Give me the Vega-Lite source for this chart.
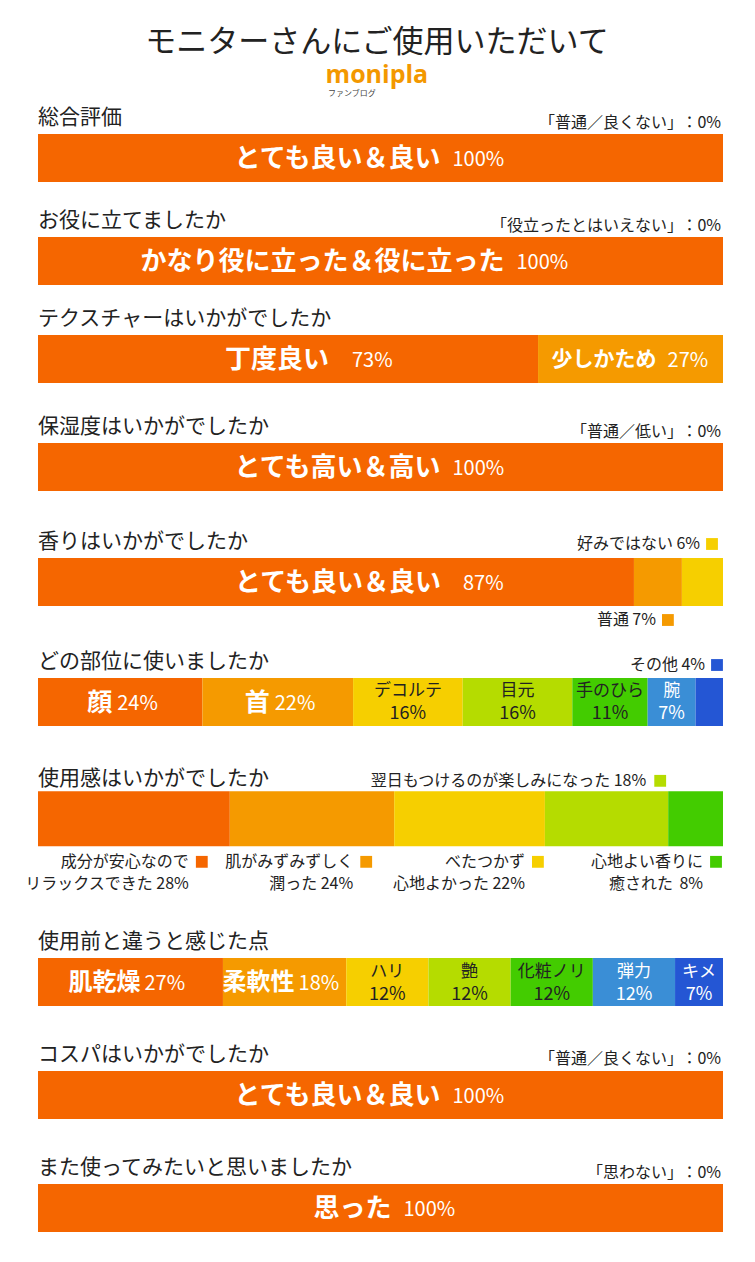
{
  "$schema": "https://vega.github.io/schema/vega-lite/v6.json",
  "padding": {"left": 24, "right": 33, "top": 27, "bottom": 23},
  "title": {"text": "モニターさんにご使用いただいて", "subtitle": "monipla", "anchor": "middle", "fontSize": 31, "fontWeight": "normal", "font": "Noto Sans CJK JP", "color": "#222", "subtitleFont": "Open Sans", "subtitleFontSize": 25, "subtitleFontWeight": "bold", "subtitleColor": "#F39800", "subtitlePadding": 4, "offset": 1, "dx": 3},
  "datasets": {
    "d": [
      {"q": "総合評価", "rank": 1, "label": "とても良い＆良い", "share": 1},
      {"q": "総合評価", "rank": 2, "label": "「普通／良くない」", "share": 0},
      {"q": "お役に立てましたか", "rank": 1, "label": "かなり役に立った＆役に立った", "share": 1},
      {"q": "お役に立てましたか", "rank": 2, "label": "「役立ったとはいえない」", "share": 0},
      {"q": "テクスチャーはいかがでしたか", "rank": 1, "label": "丁度良い", "share": 0.73},
      {"q": "テクスチャーはいかがでしたか", "rank": 2, "label": "少しかため", "share": 0.27},
      {"q": "保湿度はいかがでしたか", "rank": 1, "label": "とても高い＆高い", "share": 1},
      {"q": "保湿度はいかがでしたか", "rank": 2, "label": "「普通／低い」", "share": 0},
      {"q": "香りはいかがでしたか", "rank": 1, "label": "とても良い＆良い", "share": 0.87},
      {"q": "香りはいかがでしたか", "rank": 2, "label": "普通", "share": 0.07},
      {"q": "香りはいかがでしたか", "rank": 3, "label": "好みではない", "share": 0.06},
      {"q": "どの部位に使いましたか", "rank": 1, "label": "顔", "share": 0.24},
      {"q": "どの部位に使いましたか", "rank": 2, "label": "首", "share": 0.22},
      {"q": "どの部位に使いましたか", "rank": 3, "label": "デコルテ", "share": 0.16},
      {"q": "どの部位に使いましたか", "rank": 4, "label": "目元", "share": 0.16},
      {"q": "どの部位に使いましたか", "rank": 5, "label": "手のひら", "share": 0.11},
      {"q": "どの部位に使いましたか", "rank": 6, "label": "腕", "share": 0.07},
      {"q": "どの部位に使いましたか", "rank": 7, "label": "その他", "share": 0.04},
      {"q": "使用感はいかがでしたか", "rank": 1, "label": "成分が安心なので", "label2": "リラックスできた", "share": 0.28},
      {"q": "使用感はいかがでしたか", "rank": 2, "label": "肌がみずみずしく", "label2": "潤った", "share": 0.24},
      {"q": "使用感はいかがでしたか", "rank": 3, "label": "べたつかず", "label2": "心地よかった", "share": 0.22},
      {"q": "使用感はいかがでしたか", "rank": 4, "label": "翌日もつけるのが楽しみになった", "label2": "", "share": 0.18},
      {"q": "使用感はいかがでしたか", "rank": 5, "label": "心地よい香りに", "label2": "癒された", "share": 0.08},
      {"q": "使用前と違うと感じた点", "rank": 1, "label": "肌乾燥", "share": 0.27},
      {"q": "使用前と違うと感じた点", "rank": 2, "label": "柔軟性", "share": 0.18},
      {"q": "使用前と違うと感じた点", "rank": 3, "label": "ハリ", "share": 0.12},
      {"q": "使用前と違うと感じた点", "rank": 4, "label": "艶", "share": 0.12},
      {"q": "使用前と違うと感じた点", "rank": 5, "label": "化粧ノリ", "share": 0.12},
      {"q": "使用前と違うと感じた点", "rank": 6, "label": "弾力", "share": 0.12},
      {"q": "使用前と違うと感じた点", "rank": 7, "label": "キメ", "share": 0.07},
      {"q": "コスパはいかがでしたか", "rank": 1, "label": "とても良い＆良い", "share": 1},
      {"q": "コスパはいかがでしたか", "rank": 2, "label": "「普通／良くない」", "share": 0},
      {"q": "また使ってみたいと思いましたか", "rank": 1, "label": "思った", "share": 1},
      {"q": "また使ってみたいと思いましたか", "rank": 2, "label": "「思わない」", "share": 0}
    ]
  },
  "data": {"name": "d"},
  "spacing": 0,
  "vconcat": [
    {
      "width": 685, "height": 103,
      "title": {"text": "ファンブログ", "anchor": "start", "dx": 290, "fontSize": 8, "fontWeight": "normal", "color": "#444", "offset": 8},
      "transform": [{"filter": {"field": "q", "equal": "総合評価"}}, {"stack": "share", "groupby": ["q"], "sort": [{"field": "rank", "order": "ascending"}], "as": ["x0", "x1"]}],
      "layer": [
        {"transform": [{"filter": "datum.share > 0"}], "mark": {"type": "bar"}, "encoding": {"x": {"field": "x0", "type": "quantitative", "scale": {"domain": [0, 1], "nice": false, "zero": true}}, "x2": {"field": "x1"}, "y": {"field": "q", "type": "nominal", "scale": {"paddingInner": 0, "paddingOuter": 0.57292, "align": 0.50909, "round": false}}, "color": {"field": "rank", "type": "nominal", "scale": {"domain": [1, 2, 3, 4, 5, 6, 7], "range": ["#F56600", "#F59A00", "#F6CF00", "#B5DC00", "#43CC00", "#3A8ED6", "#2456D4"]}, "legend": null}}},
        {"transform": [{"filter": "datum.rank == 1"}], "mark": {"type": "text", "align": "left", "baseline": "middle", "dy": -40, "fontSize": 21, "color": "#222"}, "encoding": {"x": {"field": "x0", "type": "quantitative"}, "y": {"field": "q", "type": "nominal"}, "text": {"field": "q"}}},
        {"transform": [{"filter": "datum.share == 0"}], "mark": {"type": "text", "align": "right", "baseline": "middle", "dx": -40, "dy": -35, "fontSize": 16, "color": "#222"}, "encoding": {"x": {"field": "x1", "type": "quantitative"}, "y": {"field": "q", "type": "nominal"}, "text": {"field": "label"}}},
        {"transform": [{"filter": "datum.share == 0"}], "mark": {"type": "text", "align": "right", "baseline": "middle", "dx": -2, "dy": -35, "fontSize": 16, "color": "#222"}, "encoding": {"x": {"field": "x1", "type": "quantitative"}, "y": {"field": "q", "type": "nominal"}, "text": {"field": "share", "type": "quantitative", "format": "：>3.0%"}}},
        {"transform": [{"filter": "datum.rank == 1"}, {"fold": ["x0", "x1"], "as": ["k", "v"]}], "mark": {"type": "text", "align": "right", "baseline": "middle", "dx": 60, "dy": 1, "fontSize": 26, "fontWeight": "bold", "color": "#fff"}, "encoding": {"x": {"field": "v", "type": "quantitative", "aggregate": "mean"}, "y": {"field": "q", "type": "nominal"}, "text": {"field": "label"}}},
        {"transform": [{"filter": "datum.rank == 1"}, {"fold": ["x0", "x1"], "as": ["k", "v"]}], "mark": {"type": "text", "align": "left", "baseline": "middle", "dx": 72, "dy": 2, "fontSize": 20, "color": "#fff"}, "encoding": {"x": {"field": "v", "type": "quantitative", "aggregate": "mean"}, "y": {"field": "q", "type": "nominal"}, "text": {"field": "share", "type": "quantitative", "format": ".0%"}}}
      ]
    },
    {
      "width": 685, "height": 98,
      "transform": [{"filter": {"field": "q", "equal": "お役に立てましたか"}}, {"stack": "share", "groupby": ["q"], "sort": [{"field": "rank", "order": "ascending"}], "as": ["x0", "x1"]}],
      "layer": [
        {"transform": [{"filter": "datum.share > 0"}], "mark": {"type": "bar"}, "encoding": {"x": {"field": "x0", "type": "quantitative", "scale": {"domain": [0, 1], "nice": false, "zero": true}}, "x2": {"field": "x1"}, "y": {"field": "q", "type": "nominal", "scale": {"paddingInner": 0, "paddingOuter": 0.52083, "align": 0.56, "round": false}}, "color": {"field": "rank", "type": "nominal", "scale": {"domain": [1, 2, 3, 4, 5, 6, 7], "range": ["#F56600", "#F59A00", "#F6CF00", "#B5DC00", "#43CC00", "#3A8ED6", "#2456D4"]}, "legend": null}}},
        {"transform": [{"filter": "datum.rank == 1"}], "mark": {"type": "text", "align": "left", "baseline": "middle", "dy": -40, "fontSize": 21, "color": "#222"}, "encoding": {"x": {"field": "x0", "type": "quantitative"}, "y": {"field": "q", "type": "nominal"}, "text": {"field": "q"}}},
        {"transform": [{"filter": "datum.share == 0"}], "mark": {"type": "text", "align": "right", "baseline": "middle", "dx": -40, "dy": -35, "fontSize": 16, "color": "#222"}, "encoding": {"x": {"field": "x1", "type": "quantitative"}, "y": {"field": "q", "type": "nominal"}, "text": {"field": "label"}}},
        {"transform": [{"filter": "datum.share == 0"}], "mark": {"type": "text", "align": "right", "baseline": "middle", "dx": -2, "dy": -35, "fontSize": 16, "color": "#222"}, "encoding": {"x": {"field": "x1", "type": "quantitative"}, "y": {"field": "q", "type": "nominal"}, "text": {"field": "share", "type": "quantitative", "format": "：>3.0%"}}},
        {"transform": [{"filter": "datum.rank == 1"}, {"fold": ["x0", "x1"], "as": ["k", "v"]}], "mark": {"type": "text", "align": "right", "baseline": "middle", "dx": 124, "dy": 1, "fontSize": 26, "fontWeight": "bold", "color": "#fff"}, "encoding": {"x": {"field": "v", "type": "quantitative", "aggregate": "mean"}, "y": {"field": "q", "type": "nominal"}, "text": {"field": "label"}}},
        {"transform": [{"filter": "datum.rank == 1"}, {"fold": ["x0", "x1"], "as": ["k", "v"]}], "mark": {"type": "text", "align": "left", "baseline": "middle", "dx": 136, "dy": 2, "fontSize": 20, "color": "#fff"}, "encoding": {"x": {"field": "v", "type": "quantitative", "aggregate": "mean"}, "y": {"field": "q", "type": "nominal"}, "text": {"field": "share", "type": "quantitative", "format": ".0%"}}}
      ]
    },
    {
      "width": 685, "height": 108,
      "transform": [{"filter": {"field": "q", "equal": "テクスチャーはいかがでしたか"}}, {"stack": "share", "groupby": ["q"], "sort": [{"field": "rank", "order": "ascending"}], "as": ["x0", "x1"]}],
      "layer": [
        {"transform": [{"filter": "datum.share > 0"}], "mark": {"type": "bar"}, "encoding": {"x": {"field": "x0", "type": "quantitative", "scale": {"domain": [0, 1], "nice": false, "zero": true}}, "x2": {"field": "x1"}, "y": {"field": "q", "type": "nominal", "scale": {"paddingInner": 0, "paddingOuter": 0.625, "align": 0.46667, "round": false}}, "color": {"field": "rank", "type": "nominal", "scale": {"domain": [1, 2, 3, 4, 5, 6, 7], "range": ["#F56600", "#F59A00", "#F6CF00", "#B5DC00", "#43CC00", "#3A8ED6", "#2456D4"]}, "legend": null}}},
        {"transform": [{"filter": "datum.rank == 1"}], "mark": {"type": "text", "align": "left", "baseline": "middle", "dy": -40, "fontSize": 21, "color": "#222"}, "encoding": {"x": {"field": "x0", "type": "quantitative"}, "y": {"field": "q", "type": "nominal"}, "text": {"field": "q"}}},
        {"transform": [{"filter": "datum.rank == 1"}, {"fold": ["x0", "x1"], "as": ["k", "v"]}], "mark": {"type": "text", "align": "right", "baseline": "middle", "dx": 41, "dy": 1, "fontSize": 26, "fontWeight": "bold", "color": "#fff"}, "encoding": {"x": {"field": "v", "type": "quantitative", "aggregate": "mean"}, "y": {"field": "q", "type": "nominal"}, "text": {"field": "label"}}},
        {"transform": [{"filter": "datum.rank == 1"}, {"fold": ["x0", "x1"], "as": ["k", "v"]}], "mark": {"type": "text", "align": "left", "baseline": "middle", "dx": 64, "dy": 2, "fontSize": 20, "color": "#fff"}, "encoding": {"x": {"field": "v", "type": "quantitative", "aggregate": "mean"}, "y": {"field": "q", "type": "nominal"}, "text": {"field": "share", "type": "quantitative", "format": ".0%"}}},
        {"transform": [{"filter": "datum.rank == 2"}, {"fold": ["x0", "x1"], "as": ["k", "v"]}], "mark": {"type": "text", "align": "right", "baseline": "middle", "dx": 26, "dy": 1, "fontSize": 21, "fontWeight": "bold", "color": "#fff"}, "encoding": {"x": {"field": "v", "type": "quantitative", "aggregate": "mean"}, "y": {"field": "q", "type": "nominal"}, "text": {"field": "label"}}},
        {"transform": [{"filter": "datum.rank == 2"}, {"fold": ["x0", "x1"], "as": ["k", "v"]}], "mark": {"type": "text", "align": "left", "baseline": "middle", "dx": 37, "dy": 2, "fontSize": 20, "color": "#fff"}, "encoding": {"x": {"field": "v", "type": "quantitative", "aggregate": "mean"}, "y": {"field": "q", "type": "nominal"}, "text": {"field": "share", "type": "quantitative", "format": ".0%"}}}
      ]
    },
    {
      "width": 685, "height": 115,
      "transform": [{"filter": {"field": "q", "equal": "保湿度はいかがでしたか"}}, {"stack": "share", "groupby": ["q"], "sort": [{"field": "rank", "order": "ascending"}], "as": ["x0", "x1"]}],
      "layer": [
        {"transform": [{"filter": "datum.share > 0"}], "mark": {"type": "bar"}, "encoding": {"x": {"field": "x0", "type": "quantitative", "scale": {"domain": [0, 1], "nice": false, "zero": true}}, "x2": {"field": "x1"}, "y": {"field": "q", "type": "nominal", "scale": {"paddingInner": 0, "paddingOuter": 0.69792, "align": 0.41791, "round": false}}, "color": {"field": "rank", "type": "nominal", "scale": {"domain": [1, 2, 3, 4, 5, 6, 7], "range": ["#F56600", "#F59A00", "#F6CF00", "#B5DC00", "#43CC00", "#3A8ED6", "#2456D4"]}, "legend": null}}},
        {"transform": [{"filter": "datum.rank == 1"}], "mark": {"type": "text", "align": "left", "baseline": "middle", "dy": -40, "fontSize": 21, "color": "#222"}, "encoding": {"x": {"field": "x0", "type": "quantitative"}, "y": {"field": "q", "type": "nominal"}, "text": {"field": "q"}}},
        {"transform": [{"filter": "datum.share == 0"}], "mark": {"type": "text", "align": "right", "baseline": "middle", "dx": -40, "dy": -35, "fontSize": 16, "color": "#222"}, "encoding": {"x": {"field": "x1", "type": "quantitative"}, "y": {"field": "q", "type": "nominal"}, "text": {"field": "label"}}},
        {"transform": [{"filter": "datum.share == 0"}], "mark": {"type": "text", "align": "right", "baseline": "middle", "dx": -2, "dy": -35, "fontSize": 16, "color": "#222"}, "encoding": {"x": {"field": "x1", "type": "quantitative"}, "y": {"field": "q", "type": "nominal"}, "text": {"field": "share", "type": "quantitative", "format": "：>3.0%"}}},
        {"transform": [{"filter": "datum.rank == 1"}, {"fold": ["x0", "x1"], "as": ["k", "v"]}], "mark": {"type": "text", "align": "right", "baseline": "middle", "dx": 60, "dy": 1, "fontSize": 26, "fontWeight": "bold", "color": "#fff"}, "encoding": {"x": {"field": "v", "type": "quantitative", "aggregate": "mean"}, "y": {"field": "q", "type": "nominal"}, "text": {"field": "label"}}},
        {"transform": [{"filter": "datum.rank == 1"}, {"fold": ["x0", "x1"], "as": ["k", "v"]}], "mark": {"type": "text", "align": "left", "baseline": "middle", "dx": 72, "dy": 2, "fontSize": 20, "color": "#fff"}, "encoding": {"x": {"field": "v", "type": "quantitative", "aggregate": "mean"}, "y": {"field": "q", "type": "nominal"}, "text": {"field": "share", "type": "quantitative", "format": ".0%"}}}
      ]
    },
    {
      "width": 685, "height": 120,
      "transform": [{"filter": {"field": "q", "equal": "香りはいかがでしたか"}}, {"stack": "share", "groupby": ["q"], "sort": [{"field": "rank", "order": "ascending"}], "as": ["x0", "x1"]}],
      "layer": [
        {"transform": [{"filter": "datum.share > 0"}], "mark": {"type": "bar"}, "encoding": {"x": {"field": "x0", "type": "quantitative", "scale": {"domain": [0, 1], "nice": false, "zero": true}}, "x2": {"field": "x1"}, "y": {"field": "q", "type": "nominal", "scale": {"paddingInner": 0, "paddingOuter": 0.75, "align": 0.38889, "round": false}}, "color": {"field": "rank", "type": "nominal", "scale": {"domain": [1, 2, 3, 4, 5, 6, 7], "range": ["#F56600", "#F59A00", "#F6CF00", "#B5DC00", "#43CC00", "#3A8ED6", "#2456D4"]}, "legend": null}}},
        {"transform": [{"filter": "datum.rank == 1"}], "mark": {"type": "text", "align": "left", "baseline": "middle", "dy": -40, "fontSize": 21, "color": "#222"}, "encoding": {"x": {"field": "x0", "type": "quantitative"}, "y": {"field": "q", "type": "nominal"}, "text": {"field": "q"}}},
        {"transform": [{"filter": "datum.rank == 1"}, {"fold": ["x0", "x1"], "as": ["k", "v"]}], "mark": {"type": "text", "align": "right", "baseline": "middle", "dx": 105, "dy": 1, "fontSize": 26, "fontWeight": "bold", "color": "#fff"}, "encoding": {"x": {"field": "v", "type": "quantitative", "aggregate": "mean"}, "y": {"field": "q", "type": "nominal"}, "text": {"field": "label"}}},
        {"transform": [{"filter": "datum.rank == 1"}, {"fold": ["x0", "x1"], "as": ["k", "v"]}], "mark": {"type": "text", "align": "left", "baseline": "middle", "dx": 127, "dy": 2, "fontSize": 20, "color": "#fff"}, "encoding": {"x": {"field": "v", "type": "quantitative", "aggregate": "mean"}, "y": {"field": "q", "type": "nominal"}, "text": {"field": "share", "type": "quantitative", "format": ".0%"}}},
        {"transform": [{"filter": "datum.rank == 3"}], "mark": {"type": "point", "shape": "square", "filled": true, "opacity": 1, "size": 140, "xOffset": -11, "yOffset": -38}, "encoding": {"x": {"field": "x1", "type": "quantitative"}, "y": {"field": "q", "type": "nominal"}, "color": {"field": "rank", "type": "nominal"}}},
        {"transform": [{"filter": "datum.rank == 3"}], "mark": {"type": "text", "align": "right", "baseline": "middle", "dx": -23, "dy": -38, "fontSize": 16, "color": "#222"}, "encoding": {"x": {"field": "x1", "type": "quantitative"}, "y": {"field": "q", "type": "nominal"}, "text": {"field": "share", "type": "quantitative", "format": ".0%"}}},
        {"transform": [{"filter": "datum.rank == 3"}], "mark": {"type": "text", "align": "right", "baseline": "middle", "dx": -50, "dy": -38, "fontSize": 16, "color": "#222"}, "encoding": {"x": {"field": "x1", "type": "quantitative"}, "y": {"field": "q", "type": "nominal"}, "text": {"field": "label"}}},
        {"transform": [{"filter": "datum.rank == 2"}], "mark": {"type": "point", "shape": "square", "filled": true, "opacity": 1, "size": 140, "xOffset": -14, "yOffset": 38}, "encoding": {"x": {"field": "x1", "type": "quantitative"}, "y": {"field": "q", "type": "nominal"}, "color": {"field": "rank", "type": "nominal"}}},
        {"transform": [{"filter": "datum.rank == 2"}], "mark": {"type": "text", "align": "right", "baseline": "middle", "dx": -26, "dy": 38, "fontSize": 16, "color": "#222"}, "encoding": {"x": {"field": "x1", "type": "quantitative"}, "y": {"field": "q", "type": "nominal"}, "text": {"field": "share", "type": "quantitative", "format": ".0%"}}},
        {"transform": [{"filter": "datum.rank == 2"}], "mark": {"type": "text", "align": "right", "baseline": "middle", "dx": -53, "dy": 38, "fontSize": 16, "color": "#222"}, "encoding": {"x": {"field": "x1", "type": "quantitative"}, "y": {"field": "q", "type": "nominal"}, "text": {"field": "label"}}}
      ]
    },
    {
      "width": 685, "height": 115,
      "transform": [{"filter": {"field": "q", "equal": "どの部位に使いましたか"}}, {"stack": "share", "groupby": ["q"], "sort": [{"field": "rank", "order": "ascending"}], "as": ["x0", "x1"]}],
      "layer": [
        {"transform": [{"filter": "datum.share > 0"}], "mark": {"type": "bar"}, "encoding": {"x": {"field": "x0", "type": "quantitative", "scale": {"domain": [0, 1], "nice": false, "zero": true}}, "x2": {"field": "x1"}, "y": {"field": "q", "type": "nominal", "scale": {"paddingInner": 0, "paddingOuter": 0.69792, "align": 0.41791, "round": false}}, "color": {"field": "rank", "type": "nominal", "scale": {"domain": [1, 2, 3, 4, 5, 6, 7], "range": ["#F56600", "#F59A00", "#F6CF00", "#B5DC00", "#43CC00", "#3A8ED6", "#2456D4"]}, "legend": null}}},
        {"transform": [{"filter": "datum.rank == 1"}], "mark": {"type": "text", "align": "left", "baseline": "middle", "dy": -40, "fontSize": 21, "color": "#222"}, "encoding": {"x": {"field": "x0", "type": "quantitative"}, "y": {"field": "q", "type": "nominal"}, "text": {"field": "q"}}},
        {"transform": [{"filter": "datum.rank <= 2"}, {"fold": ["x0", "x1"], "as": ["k", "v"]}], "mark": {"type": "text", "align": "right", "baseline": "middle", "dx": -8, "dy": 1, "fontSize": 25, "fontWeight": "bold", "color": "#fff"}, "encoding": {"x": {"field": "v", "type": "quantitative", "aggregate": "mean"}, "y": {"field": "q", "type": "nominal"}, "text": {"field": "label"}}},
        {"transform": [{"filter": "datum.rank <= 2"}, {"fold": ["x0", "x1"], "as": ["k", "v"]}], "mark": {"type": "text", "align": "left", "baseline": "middle", "dx": -3, "dy": 2, "fontSize": 20, "color": "#fff"}, "encoding": {"x": {"field": "v", "type": "quantitative", "aggregate": "mean"}, "y": {"field": "q", "type": "nominal"}, "text": {"field": "share", "type": "quantitative", "format": ".0%"}}},
        {"transform": [{"filter": "datum.rank >= 3 && datum.rank <= 6"}, {"fold": ["x0", "x1"], "as": ["k", "v"]}], "mark": {"type": "text", "align": "center", "baseline": "middle", "dy": -11, "fontSize": 17}, "encoding": {"x": {"field": "v", "type": "quantitative", "aggregate": "mean"}, "y": {"field": "q", "type": "nominal"}, "text": {"field": "label"}, "detail": {"field": "rank", "type": "quantitative"}, "color": {"condition": {"test": "datum.rank <= 5", "value": "#222"}, "value": "#fff"}}},
        {"transform": [{"filter": "datum.rank >= 3 && datum.rank <= 6"}, {"fold": ["x0", "x1"], "as": ["k", "v"]}], "mark": {"type": "text", "align": "center", "baseline": "middle", "dy": 12, "fontSize": 18}, "encoding": {"x": {"field": "v", "type": "quantitative", "aggregate": "mean"}, "y": {"field": "q", "type": "nominal"}, "text": {"field": "share", "type": "quantitative", "format": ".0%"}, "detail": {"field": "rank", "type": "quantitative"}, "color": {"condition": {"test": "datum.rank <= 5", "value": "#222"}, "value": "#fff"}}},
        {"transform": [{"filter": "datum.rank == 7"}], "mark": {"type": "point", "shape": "square", "filled": true, "opacity": 1, "size": 140, "xOffset": -6, "yOffset": -37}, "encoding": {"x": {"field": "x1", "type": "quantitative"}, "y": {"field": "q", "type": "nominal"}, "color": {"field": "rank", "type": "nominal"}}},
        {"transform": [{"filter": "datum.rank == 7"}], "mark": {"type": "text", "align": "right", "baseline": "middle", "dx": -18, "dy": -37, "fontSize": 16, "color": "#222"}, "encoding": {"x": {"field": "x1", "type": "quantitative"}, "y": {"field": "q", "type": "nominal"}, "text": {"field": "share", "type": "quantitative", "format": ".0%"}}},
        {"transform": [{"filter": "datum.rank == 7"}], "mark": {"type": "text", "align": "right", "baseline": "middle", "dx": -45, "dy": -37, "fontSize": 16, "color": "#222"}, "encoding": {"x": {"field": "x1", "type": "quantitative"}, "y": {"field": "q", "type": "nominal"}, "text": {"field": "label"}}}
      ]
    },
    {
      "width": 685, "height": 165,
      "transform": [{"filter": {"field": "q", "equal": "使用感はいかがでしたか"}}, {"stack": "share", "groupby": ["q"], "sort": [{"field": "rank", "order": "ascending"}], "as": ["x0", "x1"]}],
      "layer": [
        {"transform": [{"filter": "datum.share > 0"}], "mark": {"type": "bar"}, "encoding": {"x": {"field": "x0", "type": "quantitative", "scale": {"domain": [0, 1], "nice": false, "zero": true}}, "x2": {"field": "x1"}, "y": {"field": "q", "type": "nominal", "scale": {"paddingInner": 0, "paddingOuter": 1.21875, "align": 0.23932, "round": false}}, "color": {"field": "rank", "type": "nominal", "scale": {"domain": [1, 2, 3, 4, 5, 6, 7], "range": ["#F56600", "#F59A00", "#F6CF00", "#B5DC00", "#43CC00", "#3A8ED6", "#2456D4"]}, "legend": null}}},
        {"transform": [{"filter": "datum.rank == 1"}], "mark": {"type": "text", "align": "left", "baseline": "middle", "dy": -40, "fontSize": 21, "color": "#222"}, "encoding": {"x": {"field": "x0", "type": "quantitative"}, "y": {"field": "q", "type": "nominal"}, "text": {"field": "q"}}},
        {"transform": [{"filter": "datum.rank == 4"}], "mark": {"type": "point", "shape": "square", "filled": true, "opacity": 1, "size": 140, "xOffset": -8, "yOffset": -38}, "encoding": {"x": {"field": "x1", "type": "quantitative"}, "y": {"field": "q", "type": "nominal"}, "color": {"field": "rank", "type": "nominal"}}},
        {"transform": [{"filter": "datum.rank == 4"}], "mark": {"type": "text", "align": "right", "baseline": "middle", "dx": -22, "dy": -38, "fontSize": 16, "color": "#222"}, "encoding": {"x": {"field": "x1", "type": "quantitative"}, "y": {"field": "q", "type": "nominal"}, "text": {"field": "share", "type": "quantitative", "format": ".0%"}}},
        {"transform": [{"filter": "datum.rank == 4"}], "mark": {"type": "text", "align": "right", "baseline": "middle", "dx": -58, "dy": -38, "fontSize": 16, "color": "#222"}, "encoding": {"x": {"field": "x1", "type": "quantitative"}, "y": {"field": "q", "type": "nominal"}, "text": {"field": "label"}}},
        {"transform": [{"filter": "datum.rank <= 2"}], "mark": {"type": "point", "shape": "square", "filled": true, "opacity": 1, "size": 140, "xOffset": -28, "yOffset": 43}, "encoding": {"x": {"field": "x1", "type": "quantitative"}, "y": {"field": "q", "type": "nominal"}, "color": {"field": "rank", "type": "nominal"}}},
        {"transform": [{"filter": "datum.rank <= 2"}], "mark": {"type": "text", "align": "right", "baseline": "middle", "dx": -41, "dy": 43, "fontSize": 16, "color": "#222"}, "encoding": {"x": {"field": "x1", "type": "quantitative"}, "y": {"field": "q", "type": "nominal"}, "text": {"field": "label"}}},
        {"transform": [{"filter": "datum.rank == 3 || datum.rank == 5"}], "mark": {"type": "point", "shape": "square", "filled": true, "opacity": 1, "size": 140, "xOffset": -7, "yOffset": 43}, "encoding": {"x": {"field": "x1", "type": "quantitative"}, "y": {"field": "q", "type": "nominal"}, "color": {"field": "rank", "type": "nominal"}}},
        {"transform": [{"filter": "datum.rank == 3 || datum.rank == 5"}], "mark": {"type": "text", "align": "right", "baseline": "middle", "dx": -20, "dy": 43, "fontSize": 16, "color": "#222"}, "encoding": {"x": {"field": "x1", "type": "quantitative"}, "y": {"field": "q", "type": "nominal"}, "text": {"field": "label"}}},
        {"transform": [{"filter": "datum.rank <= 2"}], "mark": {"type": "text", "align": "right", "baseline": "middle", "dx": -41, "dy": 65, "fontSize": 16, "color": "#222"}, "encoding": {"x": {"field": "x1", "type": "quantitative"}, "y": {"field": "q", "type": "nominal"}, "text": {"field": "share", "type": "quantitative", "format": ".0%"}}},
        {"transform": [{"filter": "datum.rank <= 2"}], "mark": {"type": "text", "align": "right", "baseline": "middle", "dx": -77, "dy": 65, "fontSize": 16, "color": "#222"}, "encoding": {"x": {"field": "x1", "type": "quantitative"}, "y": {"field": "q", "type": "nominal"}, "text": {"field": "label2"}}},
        {"transform": [{"filter": "datum.rank == 3 || datum.rank == 5"}], "mark": {"type": "text", "align": "right", "baseline": "middle", "dx": -20, "dy": 65, "fontSize": 16, "color": "#222"}, "encoding": {"x": {"field": "x1", "type": "quantitative"}, "y": {"field": "q", "type": "nominal"}, "text": {"field": "share", "type": "quantitative", "format": ".0%"}}},
        {"transform": [{"filter": "datum.rank == 3"}], "mark": {"type": "text", "align": "right", "baseline": "middle", "dx": -56, "dy": 65, "fontSize": 16, "color": "#222"}, "encoding": {"x": {"field": "x1", "type": "quantitative"}, "y": {"field": "q", "type": "nominal"}, "text": {"field": "label2"}}},
        {"transform": [{"filter": "datum.rank == 5"}], "mark": {"type": "text", "align": "right", "baseline": "middle", "dx": -50, "dy": 65, "fontSize": 16, "color": "#222"}, "encoding": {"x": {"field": "x1", "type": "quantitative"}, "y": {"field": "q", "type": "nominal"}, "text": {"field": "label2"}}}
      ]
    },
    {
      "width": 685, "height": 113,
      "transform": [{"filter": {"field": "q", "equal": "使用前と違うと感じた点"}}, {"stack": "share", "groupby": ["q"], "sort": [{"field": "rank", "order": "ascending"}], "as": ["x0", "x1"]}],
      "layer": [
        {"transform": [{"filter": "datum.share > 0"}], "mark": {"type": "bar"}, "encoding": {"x": {"field": "x0", "type": "quantitative", "scale": {"domain": [0, 1], "nice": false, "zero": true}}, "x2": {"field": "x1"}, "y": {"field": "q", "type": "nominal", "scale": {"paddingInner": 0, "paddingOuter": 0.67708, "align": 0.43077, "round": false}}, "color": {"field": "rank", "type": "nominal", "scale": {"domain": [1, 2, 3, 4, 5, 6, 7], "range": ["#F56600", "#F59A00", "#F6CF00", "#B5DC00", "#43CC00", "#3A8ED6", "#2456D4"]}, "legend": null}}},
        {"transform": [{"filter": "datum.rank == 1"}], "mark": {"type": "text", "align": "left", "baseline": "middle", "dy": -40, "fontSize": 21, "color": "#222"}, "encoding": {"x": {"field": "x0", "type": "quantitative"}, "y": {"field": "q", "type": "nominal"}, "text": {"field": "q"}}},
        {"transform": [{"filter": "datum.rank <= 2"}, {"fold": ["x0", "x1"], "as": ["k", "v"]}], "mark": {"type": "text", "align": "right", "baseline": "middle", "dx": 10, "dy": 1, "fontSize": 24, "fontWeight": "bold", "color": "#fff"}, "encoding": {"x": {"field": "v", "type": "quantitative", "aggregate": "mean"}, "y": {"field": "q", "type": "nominal"}, "text": {"field": "label"}}},
        {"transform": [{"filter": "datum.rank <= 2"}, {"fold": ["x0", "x1"], "as": ["k", "v"]}], "mark": {"type": "text", "align": "left", "baseline": "middle", "dx": 14, "dy": 2, "fontSize": 20, "color": "#fff"}, "encoding": {"x": {"field": "v", "type": "quantitative", "aggregate": "mean"}, "y": {"field": "q", "type": "nominal"}, "text": {"field": "share", "type": "quantitative", "format": ".0%"}}},
        {"transform": [{"filter": "datum.rank >= 3"}, {"fold": ["x0", "x1"], "as": ["k", "v"]}], "mark": {"type": "text", "align": "center", "baseline": "middle", "dy": -10, "fontSize": 17}, "encoding": {"x": {"field": "v", "type": "quantitative", "aggregate": "mean"}, "y": {"field": "q", "type": "nominal"}, "text": {"field": "label"}, "detail": {"field": "rank", "type": "quantitative"}, "color": {"condition": {"test": "datum.rank <= 5", "value": "#222"}, "value": "#fff"}}},
        {"transform": [{"filter": "datum.rank >= 3"}, {"fold": ["x0", "x1"], "as": ["k", "v"]}], "mark": {"type": "text", "align": "center", "baseline": "middle", "dy": 13, "fontSize": 18}, "encoding": {"x": {"field": "v", "type": "quantitative", "aggregate": "mean"}, "y": {"field": "q", "type": "nominal"}, "text": {"field": "share", "type": "quantitative", "format": ".0%"}, "detail": {"field": "rank", "type": "quantitative"}, "color": {"condition": {"test": "datum.rank <= 5", "value": "#222"}, "value": "#fff"}}}
      ]
    },
    {
      "width": 685, "height": 113,
      "transform": [{"filter": {"field": "q", "equal": "コスパはいかがでしたか"}}, {"stack": "share", "groupby": ["q"], "sort": [{"field": "rank", "order": "ascending"}], "as": ["x0", "x1"]}],
      "layer": [
        {"transform": [{"filter": "datum.share > 0"}], "mark": {"type": "bar"}, "encoding": {"x": {"field": "x0", "type": "quantitative", "scale": {"domain": [0, 1], "nice": false, "zero": true}}, "x2": {"field": "x1"}, "y": {"field": "q", "type": "nominal", "scale": {"paddingInner": 0, "paddingOuter": 0.67708, "align": 0.43077, "round": false}}, "color": {"field": "rank", "type": "nominal", "scale": {"domain": [1, 2, 3, 4, 5, 6, 7], "range": ["#F56600", "#F59A00", "#F6CF00", "#B5DC00", "#43CC00", "#3A8ED6", "#2456D4"]}, "legend": null}}},
        {"transform": [{"filter": "datum.rank == 1"}], "mark": {"type": "text", "align": "left", "baseline": "middle", "dy": -40, "fontSize": 21, "color": "#222"}, "encoding": {"x": {"field": "x0", "type": "quantitative"}, "y": {"field": "q", "type": "nominal"}, "text": {"field": "q"}}},
        {"transform": [{"filter": "datum.share == 0"}], "mark": {"type": "text", "align": "right", "baseline": "middle", "dx": -40, "dy": -36, "fontSize": 16, "color": "#222"}, "encoding": {"x": {"field": "x1", "type": "quantitative"}, "y": {"field": "q", "type": "nominal"}, "text": {"field": "label"}}},
        {"transform": [{"filter": "datum.share == 0"}], "mark": {"type": "text", "align": "right", "baseline": "middle", "dx": -2, "dy": -36, "fontSize": 16, "color": "#222"}, "encoding": {"x": {"field": "x1", "type": "quantitative"}, "y": {"field": "q", "type": "nominal"}, "text": {"field": "share", "type": "quantitative", "format": "：>3.0%"}}},
        {"transform": [{"filter": "datum.rank == 1"}, {"fold": ["x0", "x1"], "as": ["k", "v"]}], "mark": {"type": "text", "align": "right", "baseline": "middle", "dx": 60, "dy": 1, "fontSize": 26, "fontWeight": "bold", "color": "#fff"}, "encoding": {"x": {"field": "v", "type": "quantitative", "aggregate": "mean"}, "y": {"field": "q", "type": "nominal"}, "text": {"field": "label"}}},
        {"transform": [{"filter": "datum.rank == 1"}, {"fold": ["x0", "x1"], "as": ["k", "v"]}], "mark": {"type": "text", "align": "left", "baseline": "middle", "dx": 72, "dy": 2, "fontSize": 20, "color": "#fff"}, "encoding": {"x": {"field": "v", "type": "quantitative", "aggregate": "mean"}, "y": {"field": "q", "type": "nominal"}, "text": {"field": "share", "type": "quantitative", "format": ".0%"}}}
      ]
    },
    {
      "width": 685, "height": 80,
      "transform": [{"filter": {"field": "q", "equal": "また使ってみたいと思いましたか"}}, {"stack": "share", "groupby": ["q"], "sort": [{"field": "rank", "order": "ascending"}], "as": ["x0", "x1"]}],
      "layer": [
        {"transform": [{"filter": "datum.share > 0"}], "mark": {"type": "bar"}, "encoding": {"x": {"field": "x0", "type": "quantitative", "scale": {"domain": [0, 1], "nice": false, "zero": true}}, "x2": {"field": "x1"}, "y": {"field": "q", "type": "nominal", "scale": {"paddingInner": 0, "paddingOuter": 0.33333, "align": 0.875, "round": false}}, "color": {"field": "rank", "type": "nominal", "scale": {"domain": [1, 2, 3, 4, 5, 6, 7], "range": ["#F56600", "#F59A00", "#F6CF00", "#B5DC00", "#43CC00", "#3A8ED6", "#2456D4"]}, "legend": null}}},
        {"transform": [{"filter": "datum.rank == 1"}], "mark": {"type": "text", "align": "left", "baseline": "middle", "dy": -40, "fontSize": 21, "color": "#222"}, "encoding": {"x": {"field": "x0", "type": "quantitative"}, "y": {"field": "q", "type": "nominal"}, "text": {"field": "q"}}},
        {"transform": [{"filter": "datum.share == 0"}], "mark": {"type": "text", "align": "right", "baseline": "middle", "dx": -40, "dy": -35, "fontSize": 16, "color": "#222"}, "encoding": {"x": {"field": "x1", "type": "quantitative"}, "y": {"field": "q", "type": "nominal"}, "text": {"field": "label"}}},
        {"transform": [{"filter": "datum.share == 0"}], "mark": {"type": "text", "align": "right", "baseline": "middle", "dx": -2, "dy": -35, "fontSize": 16, "color": "#222"}, "encoding": {"x": {"field": "x1", "type": "quantitative"}, "y": {"field": "q", "type": "nominal"}, "text": {"field": "share", "type": "quantitative", "format": "：>3.0%"}}},
        {"transform": [{"filter": "datum.rank == 1"}, {"fold": ["x0", "x1"], "as": ["k", "v"]}], "mark": {"type": "text", "align": "right", "baseline": "middle", "dx": 11, "dy": 1, "fontSize": 26, "fontWeight": "bold", "color": "#fff"}, "encoding": {"x": {"field": "v", "type": "quantitative", "aggregate": "mean"}, "y": {"field": "q", "type": "nominal"}, "text": {"field": "label"}}},
        {"transform": [{"filter": "datum.rank == 1"}, {"fold": ["x0", "x1"], "as": ["k", "v"]}], "mark": {"type": "text", "align": "left", "baseline": "middle", "dx": 23, "dy": 2, "fontSize": 20, "color": "#fff"}, "encoding": {"x": {"field": "v", "type": "quantitative", "aggregate": "mean"}, "y": {"field": "q", "type": "nominal"}, "text": {"field": "share", "type": "quantitative", "format": ".0%"}}}
      ]
    }
  ],
  "config": {
    "view": {"stroke": null},
    "font": "Noto Sans CJK JP",
    "text": {"font": "Noto Sans CJK JP"},
    "axis": {"disable": true},
    "legend": {"disable": true},
    "title": {"font": "Noto Sans CJK JP"}
  }
}
